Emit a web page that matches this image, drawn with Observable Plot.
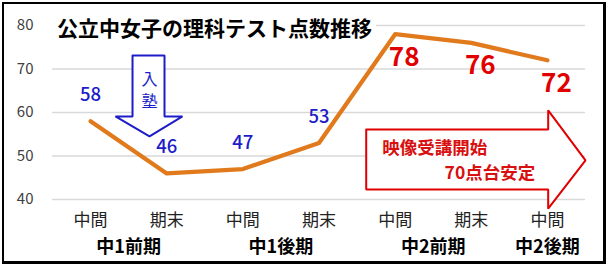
<!DOCTYPE html>
<html><head><meta charset="utf-8">
<script src="https://cdn.jsdelivr.net/npm/d3@7"></script>
<script src="https://cdn.jsdelivr.net/npm/@observablehq/plot@0.6"></script>
<style>
body{margin:0;background:#fff;font-family:"Noto Sans CJK JP",sans-serif;}
#wrap{position:relative;width:610px;height:267px;overflow:hidden}
#wrap svg{position:absolute;left:0;top:0}
#title{position:absolute;left:52px;top:15px;padding:0 4px 0 5px;background:#fff;font-size:21px;font-weight:bold;line-height:24px;color:#000;white-space:nowrap;font-family:"Noto Sans CJK JP",sans-serif}
#border{position:absolute;left:2px;top:2px;width:599px;height:257px;border:2px solid #000;border-right-width:3px;border-bottom-width:3px;pointer-events:none}
</style></head><body><div id="wrap"></div>
<script>
// ---- data ----
const terms = ["中間","期末","中間","期末","中間","期末","中間"];
const scores = [58,46,47,53,78,76,72];
const groups = ["中1前期","中1後期","中2前期","中2後期"];
const groupCenters = [0.5,2.5,4.5,6];
const yTicks = [40,50,60,70,80];
const titleText = "公立中女子の理科テスト点数推移";
const jukuChars = ["入","塾"];
const jukuY = [67.6,62.4];
const eizoLines = ["映像受講開始","70点台安定"];
// annotation shapes (data units: x = test index, y = score)
const downArrowX = [0.551,0.971,0.971,1.207,0.774,0.327,0.551,0.551];
const downArrowY = [73.1,73.1,59.1,59.1,54.5,59.1,59.1,73.1];
const rightArrowX = [3.62,6.01,6.01,6.50,6.01,6.01,3.62,3.62];
const rightArrowY = [56.1,56.1,60.5,49.0,37.9,42.3,42.3,56.1];

// ---- build ----
const pts = scores.map((v,i)=>({i, v, term: terms[i]}));
const low = pts.filter(d=>d.v<70), high = pts.filter(d=>d.v>=70);
const down = downArrowX.map((x,k)=>({x, y: downArrowY[k]}));
const right = rightArrowX.map((x,k)=>({x, y: rightArrowY[k]}));
const grp = groups.map((g,k)=>({g, x: groupCenters[k]}));
const blue = "#1c1cc8", red = "#e00000", orange = "#e07a1c";
const font = "Noto Sans CJK JP";

const chart = Plot.plot({
  width: 610, height: 267,
  marginLeft: 52, marginRight: 25, marginTop: 25, marginBottom: 68,
  style: {fontFamily: font, background: "transparent", overflow: "visible"},
  x: {type: "linear", domain: [-0.5, 6.5], axis: null},
  y: {domain: [40, 80], axis: null},
  marks: [
    Plot.gridY(yTicks, {stroke: "#d9d9d9", strokeOpacity: 1, strokeWidth: 1.6}),
    Plot.axisY(yTicks, {tickSize: 0, tickPadding: 19, fontSize: 15, fill: "#404040", label: null}),
    Plot.axisX(d3.range(terms.length), {tickSize: 0, tickPadding: 14, fontSize: 17, fill: "#222", tickFormat: i => terms[i], label: null}),
    Plot.text(grp, {x: "x", y: () => 40, text: "g", dy: 48, fontSize: 18, fontWeight: "bold", fill: "#000"}),
    Plot.line(down, {x: "x", y: "y", stroke: blue, strokeWidth: 2, fill: "white", curve: "linear", strokeLinejoin: "miter"}),
    Plot.text(jukuChars, {x: () => 0.774, y: (d,k) => jukuY[k], text: d => d, fontSize: 16, lineHeight: 1, fill: blue}),
    Plot.line(right, {x: "x", y: "y", stroke: red, strokeWidth: 2, fill: "white", curve: "linear", strokeLinejoin: "miter"}),
    Plot.text([eizoLines[0]], {x: () => 3.83, y: () => 51.7, text: d => d, textAnchor: "start", fontSize: 17.5, fontWeight: "bold", fill: "#d81010"}),
    Plot.text([eizoLines[1]], {x: () => 5.84, y: () => 46.0, text: d => d, textAnchor: "end", fontSize: 17.5, fontWeight: "bold", fill: "#d81010"}),
    Plot.line(pts, {x: "i", y: "v", stroke: orange, strokeWidth: 4.2, curve: "linear", strokeLinecap: "round", strokeLinejoin: "round"}),
    Plot.text(low, {x: "i", y: "v", text: d => String(d.v), dy: -26, fontSize: 18.5, fontWeight: 500, fill: blue}),
    Plot.text(high, {x: "i", y: "v", text: d => String(d.v), dx: 9, dy: 23, fontSize: 26, fontWeight: "bold", fill: red})
  ]
});
const wrap = document.getElementById("wrap");
wrap.appendChild(chart);
const t = document.createElement("div"); t.id = "title"; t.textContent = titleText; wrap.appendChild(t);
const b = document.createElement("div"); b.id = "border"; wrap.appendChild(b);
</script></body></html>
